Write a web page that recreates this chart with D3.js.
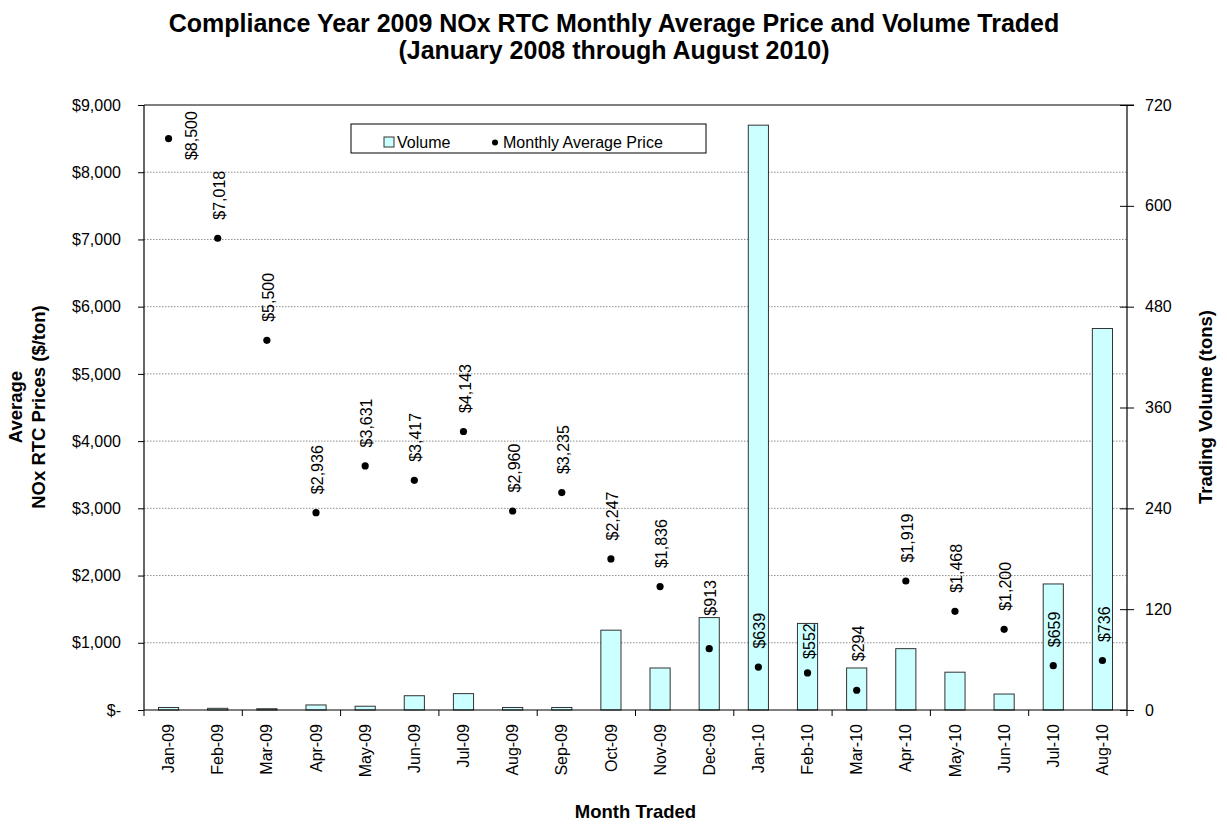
<!DOCTYPE html>
<html>
<head>
<meta charset="utf-8">
<script src="https://cdn.jsdelivr.net/npm/d3@7"></script>
<style>
  html, body { margin: 0; padding: 0; background: #fff; }
  svg { display: block; font-family: "Liberation Sans", Arial, sans-serif; }
</style>
</head>
<body>
<svg id="chart" width="1227" height="829"></svg>
<script>
// ---------- data ----------
const months = ["Jan-09","Feb-09","Mar-09","Apr-09","May-09","Jun-09","Jul-09","Aug-09","Sep-09","Oct-09",
                "Nov-09","Dec-09","Jan-10","Feb-10","Mar-10","Apr-10","May-10","Jun-10","Jul-10","Aug-10"];
const prices = [8500, 7018, 5500, 2936, 3631, 3417, 4143, 2960, 3235, 2247,
                1836, 913, 639, 552, 294, 1919, 1468, 1200, 659, 736];
const volumes = [3, 2, 1.5, 6, 4.5, 17, 19.5, 3, 3, 95,
                 50, 110, 696, 103, 50, 73, 45, 19, 150, 454];
const priceTicks = [0, 1000, 2000, 3000, 4000, 5000, 6000, 7000, 8000, 9000];
const volumeTicks = [0, 120, 240, 360, 480, 600, 720];
const titleLines = ["Compliance Year 2009 NOx RTC Monthly Average Price and Volume Traded",
                    "(January 2008 through August 2010)"];

// ---------- layout ----------
const svg = d3.select("#chart");
const L = 144, R = 1127, T = 105, B = 710;

const x = d3.scaleBand().domain(months).range([L, R]).paddingInner(0.59).paddingOuter(0.295);
const xb = d3.scaleBand().domain(months).range([L, R]); // full bands for ticks
const yP = d3.scaleLinear().domain([0, 9000]).range([B, T]);
const yV = d3.scaleLinear().domain([0, 720]).range([B, T]);

// title
svg.append("g").selectAll("text").data(titleLines).join("text")
  .attr("x", 614).attr("y", (d, i) => 32 + i * 27)
  .attr("text-anchor", "middle")
  .style("font-weight", "bold").style("font-size", "25px")
  .text(d => d);

// gridlines
svg.append("g").selectAll("line").data(priceTicks.filter(t => t > 0 && t < 9000)).join("line")
  .attr("x1", L).attr("x2", R).attr("y1", d => yP(d)).attr("y2", d => yP(d))
  .attr("stroke", "#8c8c8c").attr("stroke-width", 1).attr("stroke-dasharray", "1.5,1.5");

// top border
svg.append("line").attr("x1", L).attr("x2", R + 7).attr("y1", T).attr("y2", T)
  .attr("stroke", "#000").attr("stroke-width", 1.2);

// bars
svg.append("g").selectAll("rect").data(months).join("rect")
  .attr("x", d => x(d)).attr("width", x.bandwidth())
  .attr("y", (d, i) => yV(volumes[i])).attr("height", (d, i) => B - yV(volumes[i]))
  .attr("fill", "#CCFFFF").attr("stroke", "#333").attr("stroke-width", 1);

// left axis
const axL = d3.axisLeft(yP).tickValues(priceTicks).tickSize(6).tickPadding(17)
  .tickFormat(d => d === 0 ? "$-" : "$" + d3.format(",")(d));
const gL = svg.append("g").attr("transform", `translate(${L},0)`).call(axL);
gL.select(".domain").attr("stroke", "#000").attr("stroke-width", 1.2).attr("d", `M0,${T}V${B}`);
gL.selectAll(".tick line").attr("stroke", "#000");
gL.selectAll(".tick text").style("font-size", "16px").attr("fill", "#000").style("font-family", "Liberation Sans, Arial, sans-serif");

// right axis
const axR = d3.axisRight(yV).tickValues(volumeTicks).tickSize(7).tickPadding(11);
const gR = svg.append("g").attr("transform", `translate(${R},0)`).call(axR);
gR.select(".domain").attr("stroke", "#000").attr("stroke-width", 1.2).attr("d", `M0,${T}V${B}`);
gR.selectAll(".tick line").attr("stroke", "#000").attr("x1", -7);
gR.selectAll(".tick text").style("font-size", "16px").attr("fill", "#000").style("font-family", "Liberation Sans, Arial, sans-serif");

// bottom axis line + ticks every 2 categories
svg.append("line").attr("x1", L).attr("x2", R).attr("y1", B).attr("y2", B)
  .attr("stroke", "#000").attr("stroke-width", 1.2);
const boundaries = months.filter((d, i) => i % 2 === 0).map(d => xb(d)).concat([R]);
svg.append("g").selectAll("line").data(boundaries).join("line")
  .attr("x1", d => d).attr("x2", d => d).attr("y1", B).attr("y2", B + 6)
  .attr("stroke", "#000");

// x labels (rotated)
svg.append("g").selectAll("text").data(months).join("text")
  .attr("transform", d => `translate(${xb(d) + xb.bandwidth() / 2},${B + 14}) rotate(-90)`)
  .attr("text-anchor", "end").attr("dy", "0.35em")
  .style("font-size", "16px")
  .text(d => d);

// price dots
svg.append("g").selectAll("circle").data(months).join("circle")
  .attr("cx", d => xb(d) + xb.bandwidth() / 2).attr("cy", (d, i) => yP(prices[i]))
  .attr("r", 3.6).attr("fill", "#000");

// price labels (above dot by default; a few nudged as in the original)
const gapAbove = { "Dec-09": 33, "Feb-10": 14, "Mar-10": 29 };
const fmt = v => "$" + d3.format(",")(v);
svg.append("g").selectAll("text").data(months).join("text")
  .attr("transform", (d, i) => {
    const cx = xb(d) + xb.bandwidth() / 2, cy = yP(prices[i]);
    if (d === "Jan-09") return `translate(${cx + 23},${cy - 3}) rotate(-90)`;
    const g = gapAbove[d] !== undefined ? gapAbove[d] : 18.5;
    return `translate(${cx + 1.5},${cy - g}) rotate(-90)`;
  })
  .attr("text-anchor", d => d === "Jan-09" ? "middle" : "start")
  .attr("dy", "0.35em")
  .style("font-size", "16px")
  .text((d, i) => fmt(prices[i]));

// axis titles
const yTitle = svg.append("text").attr("transform", `translate(0,407) rotate(-90)`)
  .attr("text-anchor", "middle").style("font-weight", "bold").style("font-size", "18.5px");
yTitle.append("tspan").attr("x", 0).attr("y", 22).text("Average");
yTitle.append("tspan").attr("x", 0).attr("y", 45).text("NOx RTC Prices ($/ton)");

svg.append("text").attr("transform", `translate(1212,407) rotate(-90)`)
  .attr("text-anchor", "middle").style("font-weight", "bold").style("font-size", "18.5px")
  .text("Trading Volume (tons)");

svg.append("text").attr("x", (L + R) / 2).attr("y", 818)
  .attr("text-anchor", "middle").style("font-weight", "bold").style("font-size", "18.5px")
  .text("Month Traded");

// legend
const lg = svg.append("g");
lg.append("rect").attr("x", 351).attr("y", 124).attr("width", 355).attr("height", 29)
  .attr("fill", "#fff").attr("stroke", "#000").attr("stroke-width", 1);
lg.append("rect").attr("x", 384).attr("y", 137).attr("width", 10).attr("height", 10)
  .attr("fill", "#CCFFFF").attr("stroke", "#333");
lg.append("text").attr("x", 397).attr("y", 148).style("font-size", "16px").text("Volume");
lg.append("circle").attr("cx", 495).attr("cy", 142.5).attr("r", 3).attr("fill", "#000");
lg.append("text").attr("x", 503).attr("y", 148).style("font-size", "16px").text("Monthly Average Price");
</script>
</body>
</html>
